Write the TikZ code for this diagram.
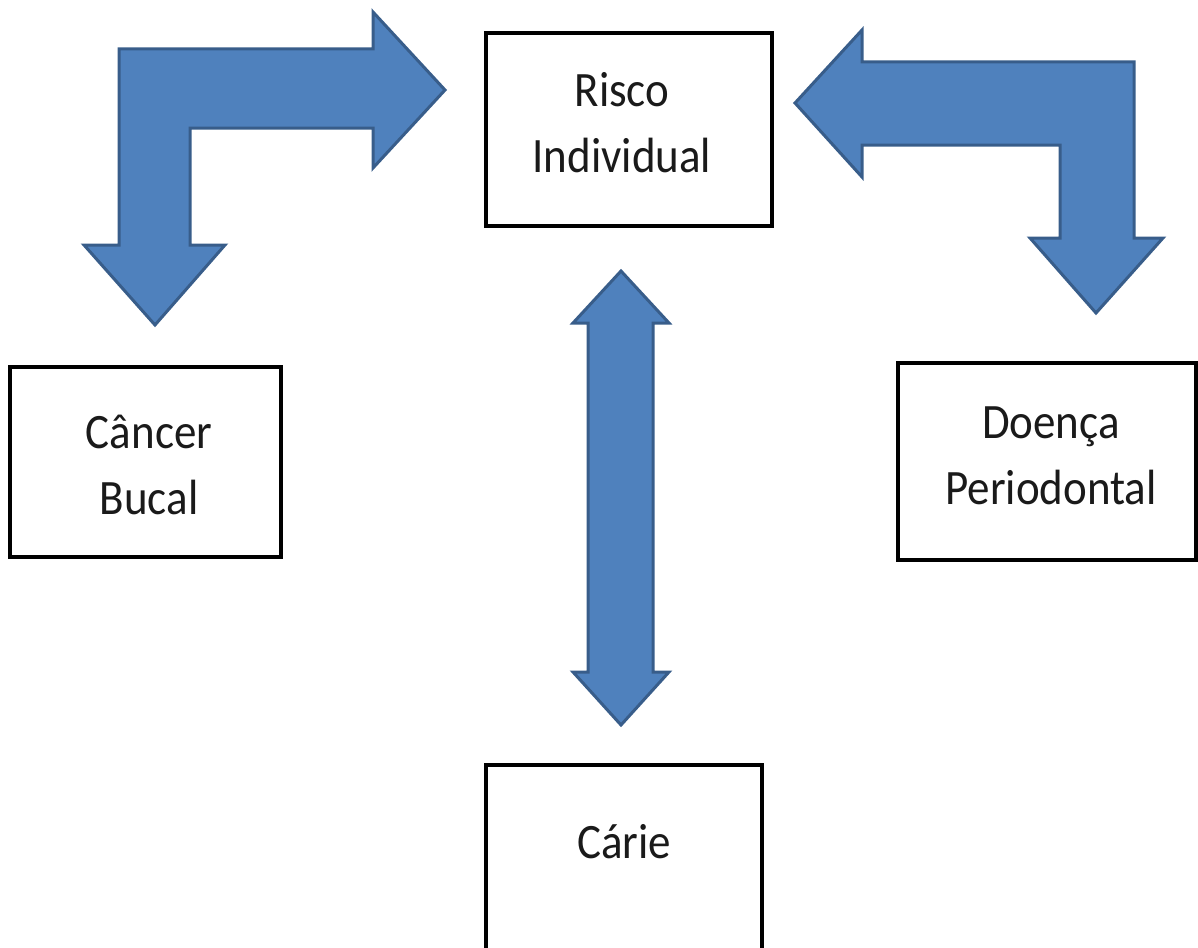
\documentclass[tikz,border=0pt]{standalone}
\usepackage{fontspec}
\setmainfont{Carlito}
\definecolor{arrowfill}{HTML}{4F81BD}
\definecolor{arrowline}{HTML}{385D8A}
\definecolor{txt}{HTML}{1A1A1A}
\newcommand{\twolines}[2]{\scalebox{1}[1.1]{\begin{tabular}{@{}c@{}}#1\\#2\end{tabular}}}
\begin{document}
\begin{tikzpicture}[x=1pt,y=-1pt,
  box/.style={draw=black, line width=4pt, fill=white, inner sep=0pt},
  label text/.style={inner sep=0pt, text=txt, font=\fontsize{45}{60}\selectfont},
  blockarrow/.style={fill=arrowfill, draw=arrowline, line width=3pt, line join=miter}]
\useasboundingbox (0,0) rectangle (1198,947);
\clip (0,0) rectangle (1198,947);

% boxes
\node[box, minimum width=286, minimum height=193] (risco) at (629,129.5) {};
\node[box, minimum width=271, minimum height=190] (cancer) at (145.5,462) {};
\node[box, minimum width=298, minimum height=197] (doenca) at (1047,461) {};
\node[box, minimum width=276, minimum height=200, anchor=north] (carie) at (624,763) {};

% texts
\node[label text] (riscotext) at (622,126.8) {\twolines{Risco}{Individual}};
\node[label text] (cancertext) at (149,467.8) {\twolines{Câncer}{Bucal}};
\node[label text] (doencatext) at (1051,457.8) {\twolines{Doença}{Periodontal}};
\node[label text, anchor=base] (carietext) at (624,858) {\scalebox{1}[1.1]{Cárie}};

% left bent arrow (to Risco and to Câncer)
\draw[blockarrow] (119,49) -- (373,49) -- (373,12) -- (445,90) -- (373,168) -- (373,128)
  -- (190,128) -- (190,245) -- (225,245) -- (155,325) -- (84,245) -- (119,245) -- cycle;

% right bent arrow (to Risco and to Doença)
\draw[blockarrow] (1134,62) -- (1134,238) -- (1163,238) -- (1096,313) -- (1030,238)
  -- (1060,238) -- (1060,145) -- (862,145) -- (862,177) -- (795,103) -- (862,30)
  -- (862,62) -- cycle;

% vertical double arrow (Risco <-> Cárie)
\draw[blockarrow] (621,271) -- (669,323) -- (653,323) -- (653,672) -- (669,672)
  -- (621,725) -- (573,672) -- (588,672) -- (588,323) -- (573,323) -- cycle;
\end{tikzpicture}
\end{document}
